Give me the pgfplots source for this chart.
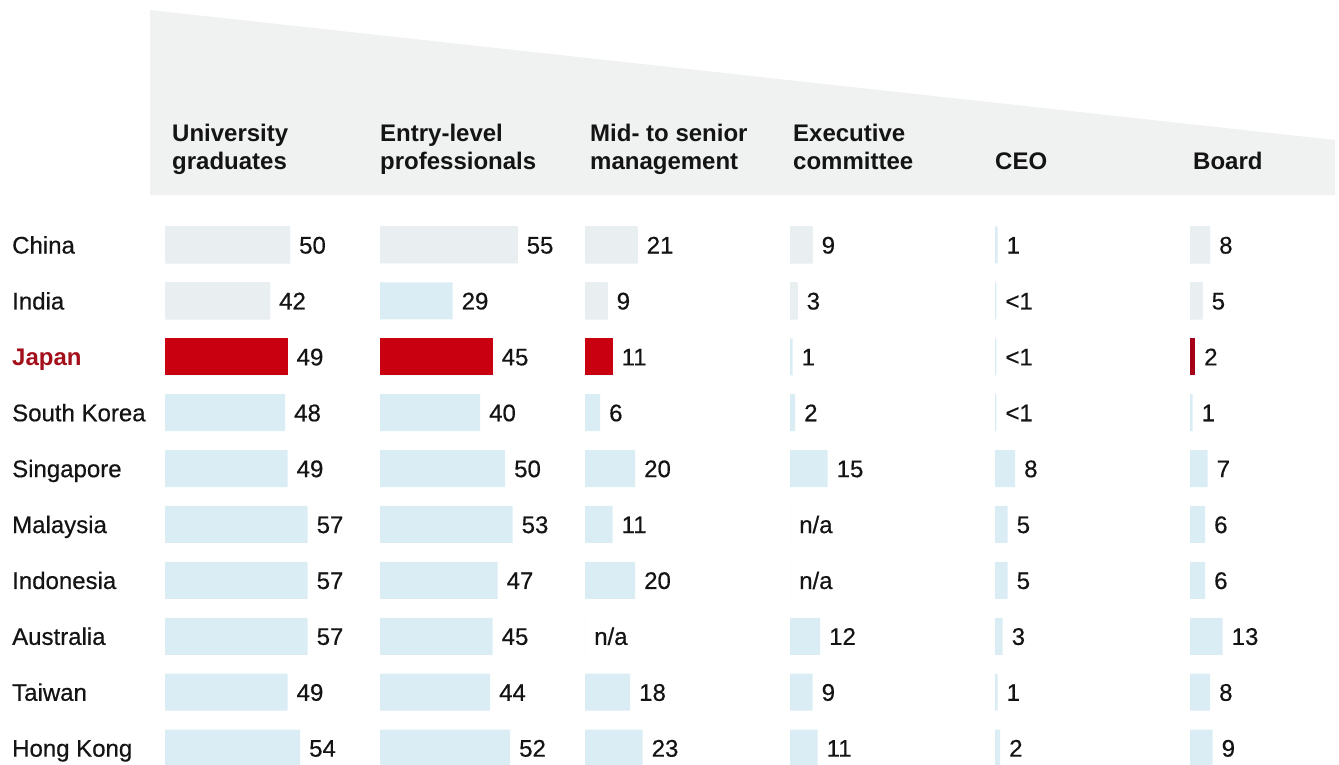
\documentclass[border=0pt]{standalone}
\usepackage{pgfplots}
\pgfplotsset{compat=1.18}
\usepackage{pgfplotstable}
\usepackage{fontspec}
\setmainfont{Liberation Sans}[UprightFeatures={FakeBold=0.5}]
\definecolor{barblue}{RGB}{218,237,244}
\definecolor{bargray}{RGB}{233,239,241}
\definecolor{jred}{RGB}{200,0,16}
\definecolor{jdark}{RGB}{165,0,24}
\definecolor{jlabel}{RGB}{163,16,28}
\definecolor{hdr}{RGB}{240,241,241}
\definecolor{txt}{RGB}{20,20,20}

% row: 0=China ... 9=Hong Kong ; u=University graduates, e=Entry-level, m=Mid/senior, x=Executive committee, c=CEO, b=Board
\pgfplotstableread{
row u  ul e  el m  ml  x  xl  c   cl b  bl
0   50 50 55 55 21 21  9  9   1   1  8  8
1   42 42 29 29 9  9   3  3   0.5 <1 5  5
2   49 49 45 45 11 11  1  1   0.5 <1 2  2
3   48 48 40 40 6  6   2  2   0.5 <1 1  1
4   49 49 50 50 20 20  15 15  8   8  7  7
5   57 57 53 53 11 11  0  n/a 5   5  6  6
6   57 57 47 47 20 20  0  n/a 5   5  6  6
7   57 57 45 45 0  n/a 12 12  3   3  13 13
8   49 49 44 44 18 18  9  9   1   1  8  8
9   54 54 52 52 23 23  11 11  2   2  9  9
}\data

\pgfplotsset{
  col/.style={scale only axis, width=150pt, height=559pt,
    xmin=0, xmax=60, ymin=-0.5, ymax=9.5, y dir=reverse,
    axis line style={draw=none}, tick style={draw=none},
    xtick=\empty, ytick=\empty, clip=false, anchor=north west,
    title style={at={(0,1)}, anchor=north west, inner sep=0pt, align=left,
      font=\fontsize{24}{28.5}\selectfont\bfseries, text=txt, yshift=89.8pt}},
  plainbars/.style={xbar, bar shift=0pt, bar width=37pt, draw=none, fill=barblue},
  bars/.style={plainbars, nodes near coords, point meta=explicit symbolic,
    nodes near coords align={horizontal},
    every node near coord/.append style={anchor=west, inner sep=0pt, xshift=9pt,
      text height=17.2pt, text depth=0pt, font=\fontsize{24}{28}\selectfont, text=txt}},
}

\begin{document}
\begin{tikzpicture}
\fill[hdr] (150pt,-10pt) -- (1335pt,-140pt) -- (1335pt,-195pt) -- (150pt,-195pt) -- cycle;

% University graduates
\begin{axis}[col, at={(165pt,-217pt)},
  title={\strut University\\\strut graduates}, title style={xshift=7pt},
  ytick={0,...,9}, ytick pos=left,
  yticklabels={China,India,\textcolor{jlabel}{\textbf{Japan}},South Korea,Singapore,Malaysia,Indonesia,Australia,Taiwan,Hong Kong},
  yticklabel style={anchor=west, inner sep=0pt, xshift=-153pt, text height=17.2pt, text depth=0pt,
    font=\fontsize{24}{28}\selectfont, text=txt}]
\addplot[bars] table[x=u,y=row,meta=ul]{\data};
\addplot[plainbars, fill=bargray, restrict y to domain=-0.5:1.5] table[x=u,y=row]{\data};
\addplot[plainbars, fill=jred, restrict y to domain=1.5:2.5] table[x=u,y=row]{\data};
\end{axis}

% Entry-level professionals
\begin{axis}[col, at={(380pt,-217pt)},
  title={\strut Entry-level\\\strut professionals}, title style={xshift=0pt}]
\addplot[bars] table[x=e,y=row,meta=el]{\data};
\addplot[plainbars, fill=bargray, restrict y to domain=-0.5:0.5] table[x=e,y=row]{\data};
\addplot[plainbars, fill=jred, restrict y to domain=1.5:2.5] table[x=e,y=row]{\data};
\end{axis}

% Mid- to senior management
\begin{axis}[col, at={(585pt,-217pt)},
  title={\strut Mid- to senior\\\strut management}, title style={xshift=5pt}]
\addplot[bars] table[x=m,y=row,meta=ml]{\data};
\addplot[plainbars, fill=bargray, restrict y to domain=-0.5:1.5] table[x=m,y=row]{\data};
\addplot[plainbars, fill=jred, restrict y to domain=1.5:2.5] table[x=m,y=row]{\data};
\end{axis}

% Executive committee
\begin{axis}[col, at={(790pt,-217pt)},
  title={\strut Executive\\\strut committee}, title style={xshift=3pt}]
\addplot[bars] table[x=x,y=row,meta=xl]{\data};
\addplot[plainbars, fill=bargray, restrict y to domain=-0.5:1.5] table[x=x,y=row]{\data};
\end{axis}

% CEO
\begin{axis}[col, at={(995pt,-217pt)},
  title={\strut\\\strut CEO}, title style={xshift=0pt}]
\addplot[bars] table[x=c,y=row,meta=cl]{\data};
\end{axis}

% Board
\begin{axis}[col, at={(1190pt,-217pt)},
  title={\strut\\\strut Board}, title style={xshift=3pt}]
\addplot[bars] table[x=b,y=row,meta=bl]{\data};
\addplot[plainbars, fill=bargray, restrict y to domain=-0.5:1.5] table[x=b,y=row]{\data};
\addplot[plainbars, fill=jdark, restrict y to domain=1.5:2.5] table[x=b,y=row]{\data};
\end{axis}

\pgfresetboundingbox
\path[use as bounding box] (0pt,0pt) rectangle (1339pt,-765pt);
\end{tikzpicture}
\end{document}
